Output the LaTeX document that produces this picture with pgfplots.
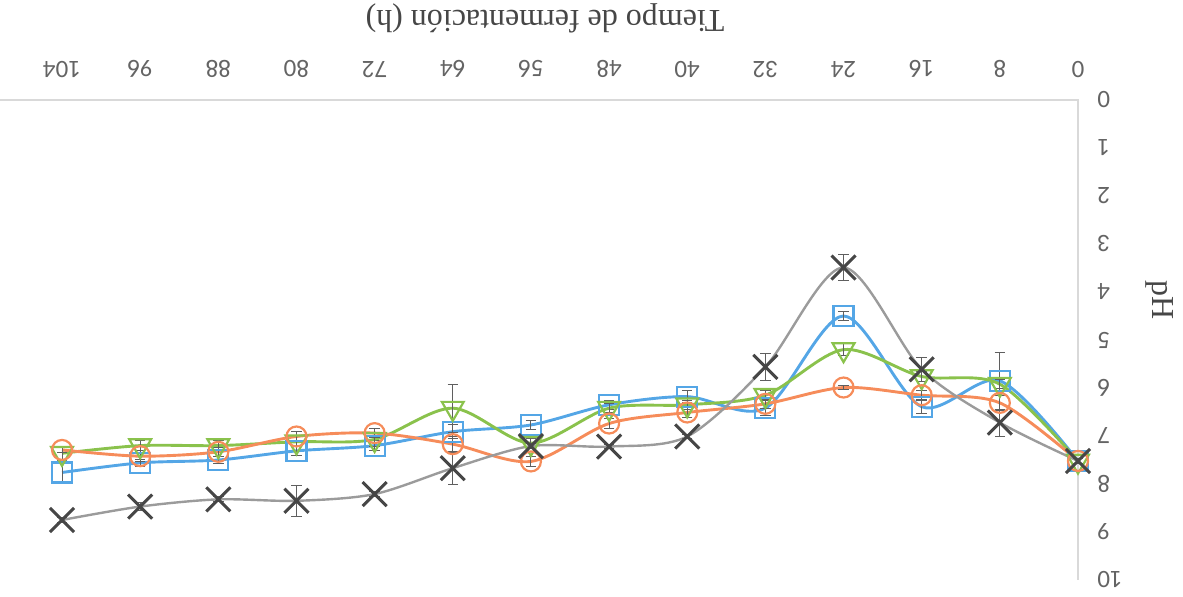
\documentclass[border=0pt]{standalone}
\usepackage{pgfplots}
\usepackage{pgfplotstable}
\usepackage{fontspec}
\pgfplotsset{compat=1.18}
\setmainfont{Liberation Serif}
\newfontfamily\tickfont{Carlito}

\definecolor{cblue}{RGB}{84,166,230}
\definecolor{cgreen}{RGB}{138,194,76}
\definecolor{corange}{RGB}{246,140,90}
\definecolor{cgrayline}{RGB}{155,155,155}
\definecolor{cgraymark}{RGB}{70,70,70}
\definecolor{cerr}{RGB}{95,95,95}
\definecolor{caxis}{RGB}{217,217,217}
\definecolor{ctick}{RGB}{100,100,100}
\definecolor{ctitle}{RGB}{70,70,70}

% pH along fermentation time, mean and standard deviation
\pgfplotstableread{
h   v     e
0   7.52  0.05
8   6.72  0.28
16  5.61  0.25
24  3.49  0.27
32  5.56  0.28
40  7.01  0.05
48  7.22  0.05
56  7.21  0.05
64  7.67  0.33
72  8.21  0.05
80  8.35  0.32
88  8.32  0.05
96  8.47  0.08
104 8.75  0.05
}\serieX

\pgfplotstableread{
h   v     e
0   7.52  0.05
8   5.85  0.60
16  6.39  0.15
24  4.50  0.09
32  6.42  0.15
40  6.18  0.12
48  6.35  0.10
56  6.77  0.10
64  6.91  0.15
72  7.20  0.10
80  7.31  0.10
88  7.50  0.08
96  7.56  0.08
104 7.76  0.23
}\serieSq

\pgfplotstableread{
h   v     e
0   7.52  0.05
8   5.92  0.10
16  5.76  0.10
24  5.20  0.12
32  6.15  0.10
40  6.35  0.10
48  6.42  0.10
56  7.15  0.10
64  6.42  0.50
72  7.07  0.15
80  7.12  0.10
88  7.20  0.10
96  7.20  0.10
104 7.36  0.15
}\serieTri

\pgfplotstableread{
h   v     e
0   7.52  0.05
8   6.31  0.15
16  6.15  0.10
24  5.99  0.05
32  6.33  0.10
40  6.51  0.10
48  6.74  0.10
56  7.53  0.10
64  7.17  0.15
72  6.94  0.10
80  7.01  0.10
88  7.33  0.10
96  7.42  0.12
104 7.29  0.05
}\serieCirc

\begin{document}
\begin{tikzpicture}
\begin{axis}[
  scale only axis,
  width=539pt, height=240pt,
  x dir=reverse, y dir=reverse,
  xmin=0, xmax=110.35, ymin=0, ymax=10,
  xtick={0,8,...,104}, ytick={0,1,...,10},
  axis line style={draw=none},
  major tick length=0pt,
  xticklabel pos=upper,
  yticklabel pos=right,
  /pgf/number format/assume math mode=true,
  tick label style={font=\tickfont\fontsize{12.5}{14}\selectfont, text=ctick, inner sep=0pt},
  xticklabel style={rotate=180, anchor=north},
  yticklabel style={rotate=180, anchor=east},
  xticklabel shift=11pt,
  yticklabel shift=9.5pt,
  clip=false,
  error bars/error bar style={cerr, line width=0.5pt},
  error bars/error mark options={rotate=90, mark size=2.6pt, cerr, line width=0.5pt},
]
% light axis lines
\draw[caxis, line width=0.6pt] (axis cs:110.35,0) -- (axis cs:0,0) -- (axis cs:0,10);

\addplot[smooth, cblue, line width=1.45pt, mark=square, mark size=5pt,
  mark options={solid, line width=1.1pt, fill=none},
  error bars/.cd, y dir=both, y explicit]
  table[x=h, y=v, y error=e] {\serieSq};

\addplot[smooth, cgreen, line width=1.45pt, mark=triangle, mark size=6.3pt,
  mark options={solid, rotate=180, line width=1.1pt, fill=none},
  error bars/.cd, y dir=both, y explicit]
  table[x=h, y=v, y error=e] {\serieTri};

\addplot[smooth, corange, line width=1.45pt, mark=o, mark size=5pt,
  mark options={solid, line width=1.1pt, fill=none},
  error bars/.cd, y dir=both, y explicit]
  table[x=h, y=v, y error=e] {\serieCirc};

\addplot[smooth, cgrayline, line width=1.2pt, mark=x, mark size=8.5pt,
  mark options={solid, cgraymark, line width=1.5pt},
  error bars/.cd, y dir=both, y explicit]
  table[x=h, y=v, y error=e] {\serieX};

\node[rotate=180, text=ctitle, font=\fontsize{16}{19}\selectfont]
  at (axis cs:54.56,-1.71) {Tiempo de fermentación (h)};
\node[rotate=-90, text=ctitle, font=\fontsize{16}{19}\selectfont]
  at (axis cs:-8.4,4.17) {pH};

\coordinate (bbA) at (axis cs:110.35,-2.0833);
\coordinate (bbB) at (axis cs:-10.748,10.354);
\end{axis}
\pgfresetboundingbox
\path[use as bounding box] (bbA) rectangle (bbB);
\end{tikzpicture}
\end{document}
